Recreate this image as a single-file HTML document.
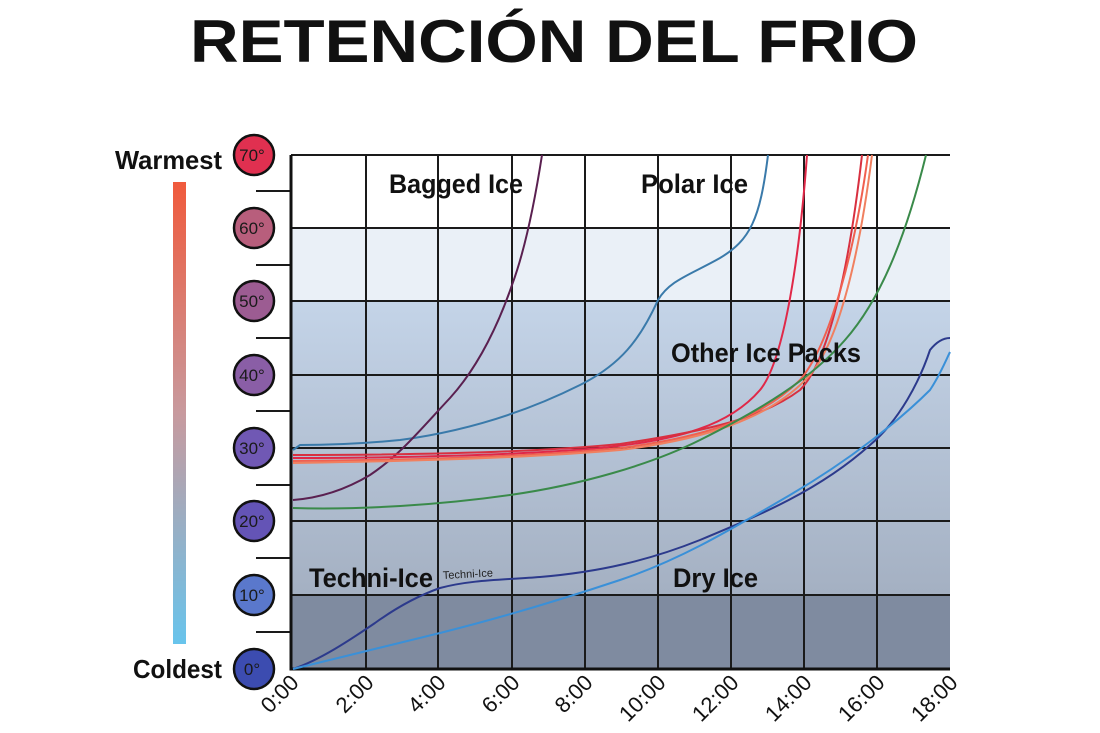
<!DOCTYPE html>
<html><head><meta charset="utf-8"><style>
body{margin:0;background:#fff;}
svg{display:block;}
</style></head><body>
<svg width="1100" height="733" xmlns="http://www.w3.org/2000/svg" font-family="Liberation Sans, sans-serif">
<defs>
<linearGradient id="bar" x1="0" y1="0" x2="0" y2="1">
<stop offset="0" stop-color="#f05a3c"/><stop offset="0.5" stop-color="#c89a9e"/><stop offset="1" stop-color="#68c4ec"/></linearGradient>
<linearGradient id="bg" x1="0" y1="0" x2="0" y2="1">
<stop offset="0" stop-color="#c4d4e8"/><stop offset="1" stop-color="#a4b0c2"/></linearGradient>
</defs>
<text x="190" y="62" textLength="728" lengthAdjust="spacingAndGlyphs" font-size="60" font-weight="bold" fill="#111">RETENCIÓN DEL FRIO</text>
<rect x="291" y="155" width="659" height="73" fill="#fff"/>
<rect x="291" y="228" width="659" height="73" fill="#eaf0f7"/>
<rect x="291" y="301" width="659" height="294" fill="url(#bg)"/>
<rect x="291" y="595" width="659" height="74" fill="#7f8ba0"/>
<g stroke="#1a1a1a" stroke-width="2" fill="none">
<path d="M291 155H950M291 228H950M291 301H950M291 375H950M291 448H950M291 521H950M291 595H950"/>
<path d="M366 155V669M438 155V669M512 155V669M585 155V669M658 155V669M731 155V669M804 155V669M877 155V669"/>
<path d="M256 191H291M256 265H291M256 338H291M256 411H291M256 485H291M256 558H291M256 632H291"/>
</g>
<path d="M291 155V669H950" stroke="#111" stroke-width="3" fill="none"/>
<g font-size="26" font-weight="bold" fill="#111" lengthAdjust="spacingAndGlyphs">
<text x="115" y="169" textLength="107" lengthAdjust="spacingAndGlyphs">Warmest</text>
<text x="133" y="678" textLength="89" lengthAdjust="spacingAndGlyphs">Coldest</text>
</g>
<rect x="173" y="182" width="13" height="462" fill="url(#bar)"/>
<g stroke="#111" stroke-width="2.5">
<circle cx="254" cy="155" r="20" fill="#e03050"/>
<circle cx="254" cy="228" r="20" fill="#b85e7c"/>
<circle cx="254" cy="301" r="20" fill="#9c5c92"/>
<circle cx="254" cy="375" r="20" fill="#8a5ea6"/>
<circle cx="254" cy="448" r="20" fill="#7058b4"/>
<circle cx="254" cy="521" r="20" fill="#6454b6"/>
<circle cx="254" cy="595" r="20" fill="#5a78cc"/>
<circle cx="254" cy="669" r="20" fill="#3c4cb0"/>
</g>
<g font-size="17" fill="#1a1a1a" text-anchor="middle">
<text x="252" y="161">70°</text><text x="252" y="234">60°</text><text x="252" y="307">50°</text><text x="252" y="381">40°</text><text x="252" y="454">30°</text><text x="252" y="527">20°</text><text x="252" y="601">10°</text><text x="252" y="675">0°</text>
</g>
<g font-size="22" fill="#111" text-anchor="end">
<text transform="translate(300,684) rotate(-45)">0:00</text>
<text transform="translate(375,684) rotate(-45)">2:00</text>
<text transform="translate(447,684) rotate(-45)">4:00</text>
<text transform="translate(521,684) rotate(-45)">6:00</text>
<text transform="translate(594,684) rotate(-45)">8:00</text>
<text transform="translate(667,684) rotate(-45)">10:00</text>
<text transform="translate(740,684) rotate(-45)">12:00</text>
<text transform="translate(813,684) rotate(-45)">14:00</text>
<text transform="translate(886,684) rotate(-45)">16:00</text>
<text transform="translate(959,684) rotate(-45)">18:00</text>
</g>
<g fill="none" stroke-width="2">
<path stroke="#3a7aaa" d="M293 450 L300 445 C330 445 360 444 400 440 C460 432 520 415 580 385 C620 365 640 340 658 300 C670 280 690 275 720 258 C750 240 760 220 768 155"/>
<path stroke="#5a2050" d="M293 500 C320 498 345 490 370 475 C400 455 420 430 450 398 C480 365 500 320 512 285 C525 250 535 200 542 155"/>
<path stroke="#e02848" d="M293 458 C400 458 520 455 600 448 C680 440 730 425 760 390 C785 360 800 250 807 155"/>
<path stroke="#d83040" d="M293 455 C420 455 540 452 620 444 C700 432 760 420 800 390 C830 360 850 260 862 155"/>
<path stroke="#f06050" d="M293 461 C420 460 540 456 620 448 C700 438 760 420 800 380 C830 345 855 250 868 155"/>
<path stroke="#f08060" d="M293 463 C430 461 540 457 620 450 C700 440 770 420 810 375 C840 340 860 250 872 155"/>
<path stroke="#3a8a4a" d="M293 508 C360 510 440 505 510 495 C580 485 650 465 700 440 C760 410 810 380 845 340 C880 300 905 240 926 155"/>
<path stroke="#2c3a8c" d="M293 669 C320 660 350 640 375 623 C400 605 420 595 440 588 C470 580 500 580 540 577 C600 572 650 560 700 540 C760 515 820 490 870 445 C900 420 920 380 930 350 C938 340 945 338 950 338"/>
<path stroke="#3a90d8" d="M293 669 C330 660 370 650 440 633 C500 618 560 600 620 580 C680 560 730 530 790 495 C850 460 900 420 930 390 C940 375 946 360 950 352"/>
</g>
<g font-weight="bold" font-size="27" fill="#111">
<text x="389" y="193" textLength="134" lengthAdjust="spacingAndGlyphs">Bagged Ice</text>
<text x="641" y="193" textLength="107" lengthAdjust="spacingAndGlyphs">Polar Ice</text>
<text x="671" y="362" textLength="190" lengthAdjust="spacingAndGlyphs">Other Ice Packs</text>
<text x="309" y="587" textLength="124" lengthAdjust="spacingAndGlyphs">Techni-Ice</text>
<text x="673" y="587" textLength="85" lengthAdjust="spacingAndGlyphs">Dry Ice</text>
</g>
<text x="443" y="579" font-size="11" fill="#222" transform="rotate(-3 443 579)">Techni-Ice</text>
</svg>
</body></html>
